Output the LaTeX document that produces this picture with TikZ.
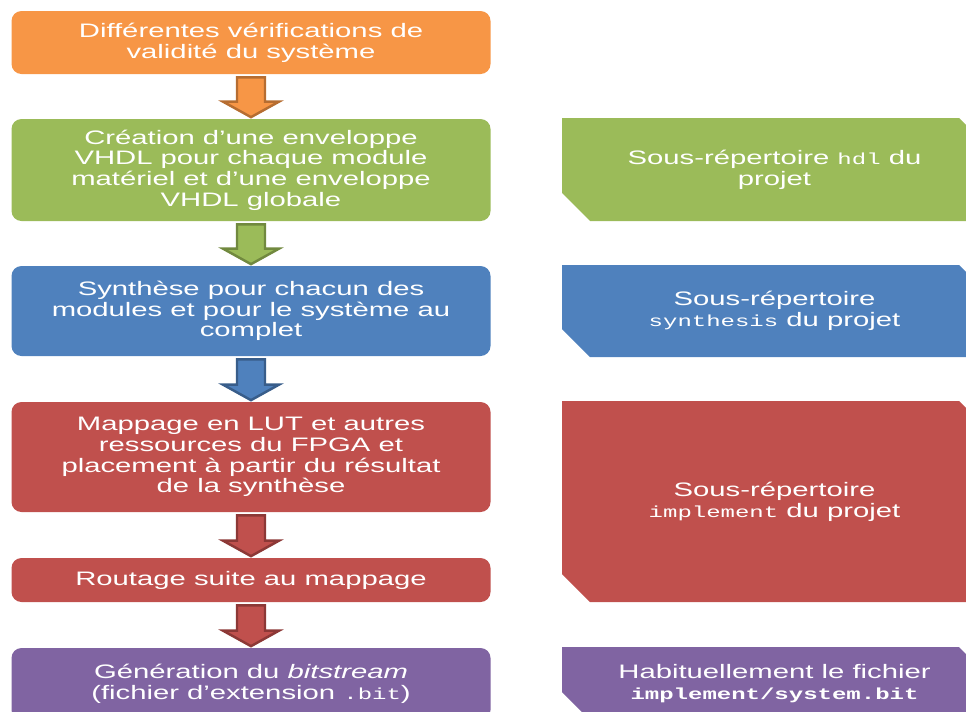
\documentclass[tikz,border=0pt]{standalone}
\usepackage{fontspec}
\setmainfont{Liberation Sans}[FakeStretch=1.5]
\setmonofont{Liberation Mono}[FakeStretch=1.5, Scale=0.82]
\usepackage{xcolor}
\usepackage{tikz}
\usetikzlibrary{positioning, calc, shapes.misc}
\definecolor{orangestep}{HTML}{F79646}
\definecolor{orangeline}{HTML}{B66D31}
\definecolor{greenstep}{HTML}{9BBB59}
\definecolor{greenline}{HTML}{71893F}
\definecolor{bluestep}{HTML}{4F81BD}
\definecolor{blueline}{HTML}{385D8A}
\definecolor{redstep}{HTML}{C0504D}
\definecolor{redline}{HTML}{8C3836}
\definecolor{purplestep}{HTML}{8064A2}
\tikzset{
  stepbox/.style={
    rounded corners=0.2cm,
    minimum width=9.58cm,
    text=white,
    align=center,
    inner sep=0pt,
    font=\fontsize{11.1pt}{11.8pt}\selectfont
  },
  dirbox/.style={
    chamfered rectangle,
    chamfered rectangle corners={north east, south west},
    chamfered rectangle xsep=0.36cm,
    chamfered rectangle ysep=0.2cm,
    minimum width=8.5cm,
    text=white,
    align=center,
    inner sep=0pt,
    font=\fontsize{11.1pt}{11.8pt}\selectfont
  }
}
\newcommand{\blockarrow}[4]{%
  \draw[draw=#4, fill=#3, line width=1.4pt, line join=miter]
    ($(#1.south)+(-0.28,-0.06)$) -- ($(#1.south)+(0.28,-0.06)$)
    -- ($(#2.north)+(0.28,0.34)$) -- ($(#2.north)+(0.56,0.34)$)
    -- ($(#2.north)+(0,0.03)$) -- ($(#2.north)+(-0.56,0.34)$)
    -- ($(#2.north)+(-0.28,0.34)$) -- cycle;}

\begin{document}
\begin{tikzpicture}
  \useasboundingbox (0,0) rectangle (19.32,-14.22);
  \clip (0,0) rectangle (19.32,-14.22);

  % Flow of steps
  \node[stepbox, fill=orangestep, minimum height=1.26cm] (verif) at (5.02,-0.85)
    {Différentes vérifications de\\validité du système};
  \node[stepbox, fill=greenstep, minimum height=2.04cm] (wrap) at (5.02,-3.40)
    {Création d’une enveloppe\\VHDL pour chaque module\\matériel et d’une enveloppe\\VHDL globale};
  \node[stepbox, fill=bluestep, minimum height=1.8cm] (synth) at (5.02,-6.22)
    {Synthèse pour chacun des\\modules et pour le système au\\complet};
  \node[stepbox, fill=redstep, minimum height=2.2cm] (map) at (5.02,-9.14)
    {Mappage en LUT et autres\\ressources du FPGA et\\placement à partir du résultat\\de la synthèse};
  \node[stepbox, fill=redstep, minimum height=0.88cm] (route) at (5.02,-11.6)
    {Routage suite au mappage};
  \node[stepbox, fill=purplestep, minimum height=1.44cm] (bits) at (5.02,-13.68)
    {Génération du \textit{bitstream}\\(fichier d’extension \texttt{.bit})};

  \blockarrow{verif}{wrap}{orangestep}{orangeline}
  \blockarrow{wrap}{synth}{greenstep}{greenline}
  \blockarrow{synth}{map}{bluestep}{blueline}
  \blockarrow{map}{route}{redstep}{redline}
  \blockarrow{route}{bits}{redstep}{redline}

  % Directories
  \node[dirbox, fill=greenstep, minimum height=2.06cm] (hdldir) at (15.49,-3.39)
    {Sous-répertoire \texttt{hdl} du\\projet};
  \node[dirbox, fill=bluestep, minimum height=1.84cm] (synthdir) at (15.49,-6.22)
    {Sous-répertoire\\\texttt{synthesis} du projet};
  \node[dirbox, fill=redstep, minimum height=4.02cm] (impldir) at (15.49,-10.03)
    {Sous-répertoire\\\texttt{implement} du projet};
  \node[dirbox, fill=purplestep, minimum height=1.46cm] (bitfile) at (15.49,-13.67)
    {Habituellement le fichier\\\texttt{\textbf{implement/system.bit}}};
\end{tikzpicture}
\end{document}
